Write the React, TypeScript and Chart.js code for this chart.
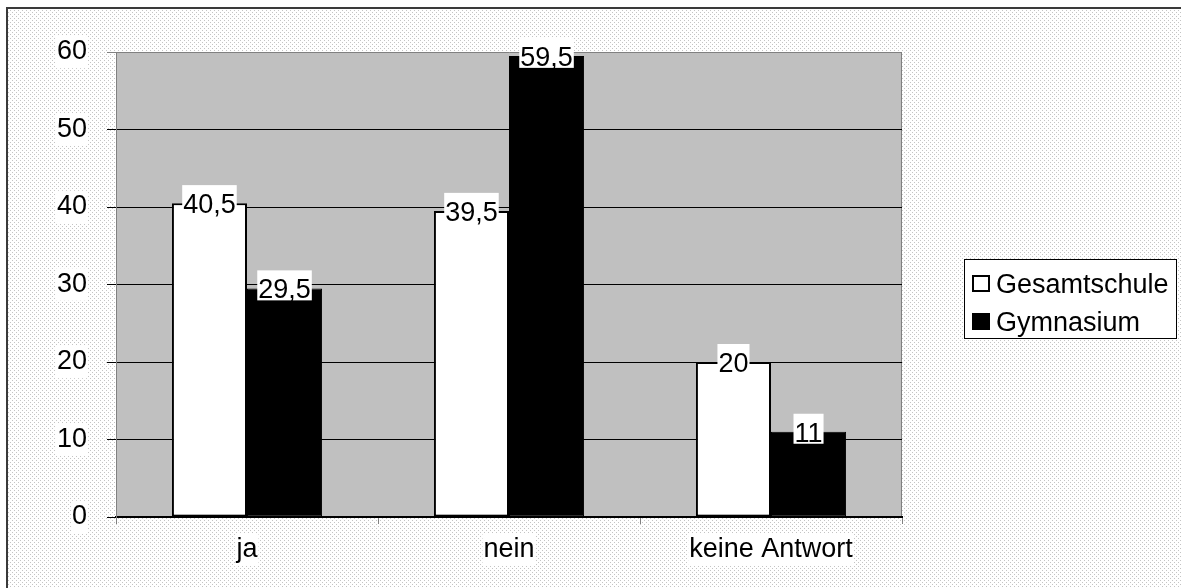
import React, { useEffect, useRef } from "react";
import { Chart, registerables } from "chart.js";

Chart.register(...registerables);

const categories = ["ja", "nein", "keine Antwort"];
const seriesNames = ["Gesamtschule", "Gymnasium"];
const gesamtschule = [40.5, 39.5, 20];
const gymnasium = [29.5, 59.5, 11];
const yMin = 0;
const yMax = 60;
const yStep = 10;

const FONT = "'Liberation Sans', Arial, Helvetica, sans-serif";
const FONT_SIZE = 27;
const fmt = (v: number) => String(v).replace(".", ",");

const bgPlugin = {
  id: "bgPlugin",
  beforeDraw(chart: any) {
    const { ctx, width, height, chartArea: ca } = chart;
    ctx.save();
    ctx.fillStyle = "#ffffff";
    ctx.fillRect(0, 0, width, height);
    const tile = document.createElement("canvas");
    tile.width = 4;
    tile.height = 4;
    const t = tile.getContext("2d")!;
    t.fillStyle = "#ffffff";
    t.fillRect(0, 0, 4, 4);
    t.fillStyle = "#c4c4c4";
    t.fillRect(0, 0, 1, 1);
    t.fillRect(2, 2, 1, 1);
    const pat = ctx.createPattern(tile, "repeat");
    ctx.fillStyle = pat;
    ctx.fillRect(8, 9, width, height);
    // outer border (top & left)
    ctx.fillStyle = "#3a3a3a";
    ctx.fillRect(6, 7, width, 2);
    ctx.fillRect(6, 7, 2, height);
    // plot area
    ctx.fillStyle = "#c0c0c0";
    ctx.fillRect(ca.left, ca.top, ca.right - ca.left, ca.bottom - ca.top);
    ctx.strokeStyle = "#808080";
    ctx.lineWidth = 1;
    ctx.beginPath();
    ctx.moveTo(Math.round(ca.right) - 0.5, ca.top);
    ctx.lineTo(Math.round(ca.right) - 0.5, ca.bottom);
    ctx.stroke();
    ctx.restore();
  },
};

const labelPlugin = {
  id: "labelPlugin",
  afterDatasetsDraw(chart: any) {
    const { ctx } = chart;
    ctx.save();
    ctx.font = `${FONT_SIZE}px ${FONT}`;
    ctx.textAlign = "center";
    ctx.textBaseline = "alphabetic";
    chart.data.datasets.forEach((ds: any, di: number) => {
      const meta = chart.getDatasetMeta(di);
      meta.data.forEach((el: any, i: number) => {
        const txt = fmt(ds.data[i]);
        const w = ctx.measureText(txt).width;
        const x = el.x;
        const y = el.y;
        ctx.fillStyle = "#ffffff";
        ctx.fillRect(x - w / 2 - 1, y - 18, w + 2, 30);
        ctx.fillStyle = "#000000";
        ctx.fillText(txt, x, y + 10);
      });
    });
    ctx.restore();
  },
  afterDraw(chart: any) {
    const { ctx } = chart;
    ctx.save();
    const bx = 964, by = 259, bw = 213, bh = 80;
    ctx.fillStyle = "#ffffff";
    ctx.fillRect(bx, by, bw, bh);
    ctx.strokeStyle = "#000000";
    ctx.lineWidth = 1;
    ctx.strokeRect(bx + 0.5, by + 0.5, bw - 1, bh - 1);
    ctx.font = `${FONT_SIZE}px ${FONT}`;
    ctx.textAlign = "left";
    ctx.textBaseline = "alphabetic";
    const rows = [283, 321];
    chart.data.datasets.forEach((ds: any, di: number) => {
      const cy = rows[di];
      if (di === 0) {
        ctx.fillStyle = "#ffffff";
        ctx.fillRect(973, cy - 7, 16, 15);
        ctx.lineWidth = 2;
        ctx.strokeStyle = "#000";
        ctx.strokeRect(973, cy - 7, 16, 15);
      } else {
        ctx.fillStyle = "#000000";
        ctx.fillRect(972, cy - 8, 18, 17);
      }
      ctx.fillStyle = "#000000";
      ctx.fillText(ds.label, 996, cy + 10);
    });
    ctx.restore();
  },
};

export default function App() {
  const ref = useRef<HTMLCanvasElement | null>(null);
  useEffect(() => {
    if (!ref.current) return;
    const gridColor = (c: any) =>
      c.tick && c.tick.value === yMax ? "#808080" : "#000000";
    const chart = new Chart(ref.current, {
      type: "bar",
      data: {
        labels: categories,
        datasets: [
          {
            label: seriesNames[0],
            data: gesamtschule,
            backgroundColor: "#ffffff",
            borderColor: "#000000",
            borderWidth: 2,
            borderSkipped: false,
            categoryPercentage: 0.573,
            barPercentage: 1,
          },
          {
            label: seriesNames[1],
            data: gymnasium,
            backgroundColor: "#000000",
            borderColor: "#000000",
            borderWidth: 1,
            borderSkipped: false,
            categoryPercentage: 0.573,
            barPercentage: 1,
          },
        ],
      },
      options: {
        responsive: false,
        animation: false,
        devicePixelRatio: 1,
        layout: { padding: { top: 52, right: 279, bottom: 0, left: 0 } },
        plugins: {
          legend: { display: false },
          tooltip: { enabled: false },
        },
        scales: {
          x: {
            grid: {
              drawOnChartArea: false,
              offset: true,
              tickLength: 7,
              color: "#808080",
              tickColor: "#808080",
            },
            border: { color: "#000000", width: 2 },
            ticks: {
              color: "#000000",
              font: { family: FONT, size: FONT_SIZE },
              padding: 9,
              maxRotation: 0,
              autoSkip: false,
              showLabelBackdrop: true,
              backdropColor: "#ffffff",
              backdropPadding: { top: 0, bottom: 0, left: 1, right: 1 },
            },
            afterFit: (s: any) => {
              s.height = 71;
            },
          },
          y: {
            min: yMin,
            max: yMax,
            grid: {
              color: gridColor,
              tickColor: gridColor,
              lineWidth: 1,
              tickLength: 9,
            },
            border: { color: "#808080", width: 1 },
            ticks: {
              stepSize: yStep,
              color: "#000000",
              font: { family: FONT, size: FONT_SIZE },
              padding: 20,
              showLabelBackdrop: true,
              backdropColor: "#ffffff",
              backdropPadding: { top: 0, bottom: 0, left: 1, right: 1 },
            },
            afterFit: (s: any) => {
              s.width = 116;
            },
          },
        },
      },
      plugins: [bgPlugin, labelPlugin],
    });
    return () => chart.destroy();
  }, []);
  return (
    <div style={{ position: "absolute", left: 0, top: 0, width: 1181, height: 588 }}>
      <canvas ref={ref} width={1181} height={588} style={{ display: "block" }} />
    </div>
  );
}
